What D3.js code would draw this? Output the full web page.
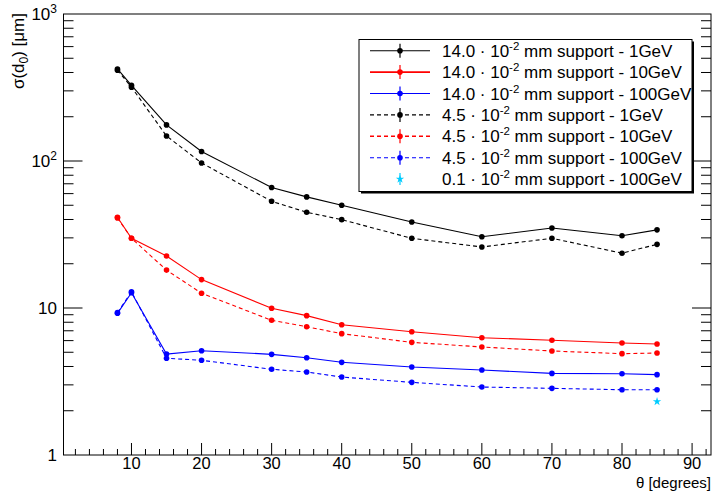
<!DOCTYPE html>
<html><head><meta charset="utf-8">
<script src="https://cdn.jsdelivr.net/npm/d3@7"></script>
<style>body{margin:0;background:#fff}svg{display:block;font-family:"Liberation Sans",Arial,Helvetica,sans-serif}</style>
</head><body><svg id="c" width="715" height="491"></svg>
<script>
const theta = [8,10,15,20,30,35,40,50,60,70,80,85];
const s140_1GeV   = [423,327,176,116,66,57,50,38.5,30.5,35,31,34];
const s140_10GeV  = [41.4,29.8,22.6,15.6,9.95,8.87,7.7,6.9,6.28,6.03,5.78,5.69];
const s140_100GeV = [9.2,12.7,4.86,5.12,4.84,4.59,4.27,3.97,3.79,3.59,3.57,3.52];
const s45_1GeV    = [415,318,148,97,53.2,44.8,39.9,29.8,26,29.8,23.6,27.1];
const s45_10GeV   = [41,29.8,18.1,12.6,8.25,7.46,6.69,5.84,5.43,5.10,4.89,4.94];
const s45_100GeV  = [9.3,12.9,4.55,4.41,3.83,3.67,3.39,3.12,2.90,2.84,2.78,2.78];
const theta01 = [85];
const s01_100GeV = [2.31];
const xTicks = [10,20,30,40,50,60,70,80,90];
const yTicks = [1,10,100,1000];
const legendLabels = [
  ["14.0","1GeV"],["14.0","10GeV"],["14.0","100GeV"],
  ["4.5","1GeV"],["4.5","10GeV"],["4.5","100GeV"],["0.1","100GeV"]];

const series = [
  {v:s140_1GeV, c:"#000", dash:null},
  {v:s140_10GeV, c:"#ff0000", dash:null},
  {v:s140_100GeV, c:"#0000ff", dash:null},
  {v:s45_1GeV, c:"#000", dash:"4,3"},
  {v:s45_10GeV, c:"#ff0000", dash:"4,3"},
  {v:s45_100GeV, c:"#0000ff", dash:"4,3"}
];

const L=63.5, R=711, T=14, B=455;
const svg = d3.select("#c");
const x = d3.scaleLinear().domain([0.3,92.7]).range([L,R]);
const y = d3.scaleLog().domain([1,1000]).range([B,T]);

// frame
svg.append("rect").attr("x",L).attr("y",T).attr("width",R-L).attr("height",B-T)
  .attr("fill","none").attr("stroke","#000").attr("stroke-width",1);

// x ticks
const g = svg.append("g").attr("stroke","#000").attr("stroke-width",1);
d3.range(2,93,2).forEach(t=>{
  const major = t%10===0;
  g.append("line").attr("x1",x(t)).attr("x2",x(t)).attr("y1",B).attr("y2",B-(major?12:6));
});
svg.append("g").selectAll("text").data(xTicks).join("text")
  .attr("x",d=>x(d)).attr("y",469).attr("text-anchor","middle")
  .attr("font-size",16.5).text(d=>d);
svg.append("text").attr("x",R).attr("y",487.5).attr("text-anchor","end")
  .attr("font-size",15).text("θ [degrees]");

// y ticks both sides
for(let e=0;e<3;e++){
  for(let m=1;m<=9;m++){
    const v=m*Math.pow(10,e);
    const len = m===1?19:10;
    if(m===1 && e===0) continue;
    g.append("line").attr("x1",L).attr("x2",L+len).attr("y1",y(v)).attr("y2",y(v));
    g.append("line").attr("x1",R).attr("x2",R-len).attr("y1",y(v)).attr("y2",y(v));
  }
}
const yl = svg.append("g").attr("font-size",17);
yTicks.forEach(v=>{
  const t = yl.append("text").attr("y",y(v)+6).attr("text-anchor","end").attr("x",57);
  if(v===1||v===10){ t.text(v); }
  else {
    t.append("tspan").text("10");
    t.append("tspan").attr("font-size",12).attr("dy",-7).text(Math.round(Math.log10(v)));
  }
});
// y label
const ylab = svg.append("text").attr("transform","translate(24,13) rotate(-90)")
  .attr("text-anchor","end").attr("font-size",17);
ylab.append("tspan").text("σ(d");
ylab.append("tspan").attr("font-size",12).attr("dy",4).text("0");
ylab.append("tspan").attr("dy",-4).text(") [μm]");

// series
const line = d3.line().x((d,i)=>x(theta[i])).y(d=>y(d));
series.forEach(s=>{
  svg.append("path").attr("d",line(s.v)).attr("fill","none")
    .attr("stroke",s.c).attr("stroke-width",1.1)
    .attr("stroke-dasharray",s.dash);
  svg.append("g").selectAll("circle").data(s.v).join("circle")
    .attr("cx",(d,i)=>x(theta[i])).attr("cy",d=>y(d)).attr("r",2.8).attr("fill",s.c);
});
const star = d3.symbol().type(d3.symbolStar).size(22);
svg.append("g").selectAll("path").data(s01_100GeV).join("path")
  .attr("d",star).attr("fill","#00ccff")
  .attr("transform",(d,i)=>`translate(${x(theta01[i])},${y(d)})`);

// legend
const lx=359, ly=39.5, lw=333, lh=152;
svg.append("rect").attr("x",lx+2).attr("y",ly+2).attr("width",lw).attr("height",lh).attr("fill","#000");
svg.append("rect").attr("x",lx).attr("y",ly).attr("width",lw).attr("height",lh)
  .attr("fill","#fff").attr("stroke","#000").attr("stroke-width",1);
const cols = ["#000","#ff0000","#0000ff","#000","#ff0000","#0000ff","#00ccff"];
legendLabels.forEach((lab,i)=>{
  const cy = 50.7 + i*21.4;
  const col = cols[i];
  if(i<6){
    svg.append("line").attr("x1",370).attr("x2",430).attr("y1",cy).attr("y2",cy)
      .attr("stroke",col).attr("stroke-width",i%3===1?1.6:1.1)
      .attr("stroke-dasharray",i>=3?"4,3":null);
    svg.append("line").attr("x1",400).attr("x2",400).attr("y1",cy-7).attr("y2",cy+7)
      .attr("stroke",col).attr("stroke-width",1.2);
    svg.append("circle").attr("cx",400).attr("cy",cy).attr("r",2.8).attr("fill",col);
  } else {
    svg.append("line").attr("x1",400).attr("x2",400).attr("y1",cy-6).attr("y2",cy+6)
      .attr("stroke",col).attr("stroke-width",1.2);
    svg.append("path").attr("d",star).attr("fill",col).attr("transform",`translate(400,${cy})`);
  }
  const t = svg.append("text").attr("x",442).attr("y",cy+6).attr("font-size",17);
  t.append("tspan").text(lab[0]+" · 10");
  t.append("tspan").attr("font-size",11.5).attr("dy",-7).text("-2");
  t.append("tspan").attr("dy",7).text(" mm support - "+lab[1]);
});
</script></body></html>
